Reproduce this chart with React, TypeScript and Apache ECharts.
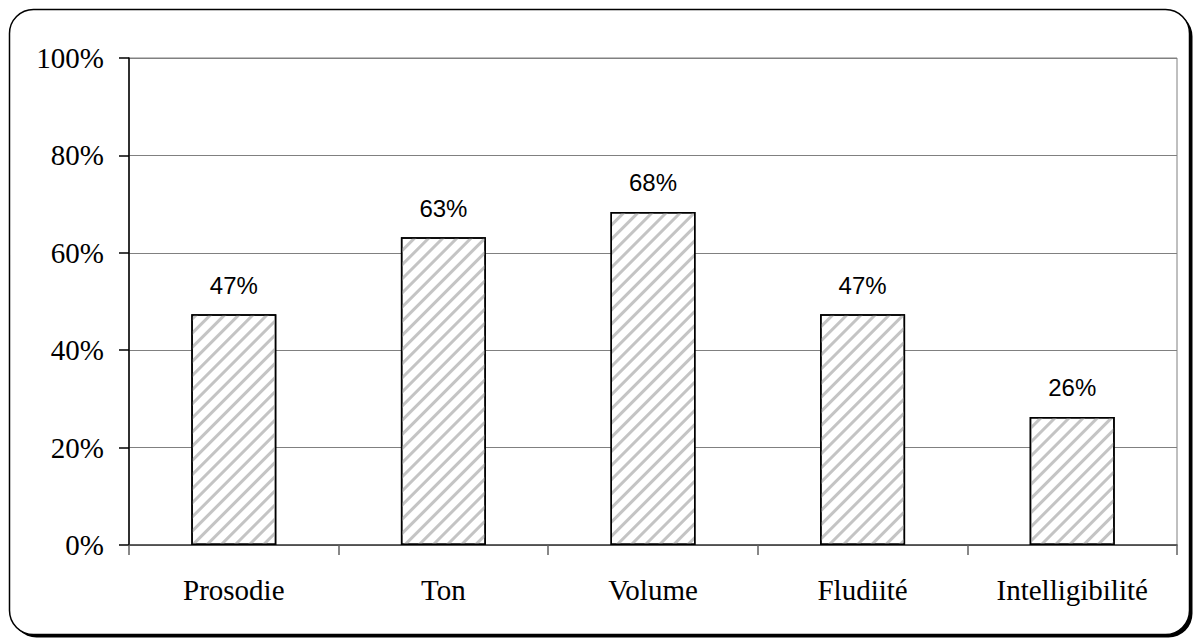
import React, { useEffect, useRef } from "react";
import * as echarts from "echarts";

const categories = ["Prosodie", "Ton", "Volume", "Fludiité", "Intelligibilité"];
const values = [47.4, 63.2, 68.4, 47.4, 26.3];
const yTicks = [0, 20, 40, 60, 80, 100];

export default function App() {
  const ref = useRef<HTMLDivElement>(null);
  useEffect(() => {
    if (!ref.current) return;
    const chart = echarts.init(ref.current, null, { renderer: "svg" });
    const serif = "'Liberation Serif', 'Times New Roman', serif";
    chart.setOption({
      animation: false,
      backgroundColor: "#ffffff",
      graphic: [
        {
          type: "rect",
          z: -20,
          shape: { x: 12.5, y: 12.5, width: 1180, height: 625, r: 24 },
          style: { fill: "#000000" },
          silent: true,
        },
        {
          type: "rect",
          z: -19,
          shape: { x: 9.5, y: 9.5, width: 1180, height: 625, r: 24 },
          style: { fill: "#ffffff", stroke: "#000000", lineWidth: 1.5 },
          silent: true,
        },
      ],
      grid: {
        left: 129,
        right: 17,
        top: 58,
        bottom: 94,
        show: true,
        borderColor: "#808080",
        borderWidth: 1,
        backgroundColor: "transparent",
      },
      xAxis: {
        type: "category",
        data: categories,
        axisLine: { lineStyle: { color: "#404040", width: 1.5 } },
        axisTick: { show: true, length: 10, lineStyle: { color: "#606060", width: 1.5 } },
        axisLabel: { color: "#000", fontFamily: serif, fontSize: 29, margin: 30 },
        splitLine: { show: false },
      },
      yAxis: {
        type: "value",
        min: yTicks[0],
        max: yTicks[yTicks.length - 1],
        interval: 20,
        axisLine: { show: true, lineStyle: { color: "#000", width: 1.5 } },
        axisTick: { show: true, length: 10, lineStyle: { color: "#000", width: 1.5 } },
        axisLabel: { color: "#000", fontFamily: serif, fontSize: 29, margin: 25, formatter: "{value}%" },
        splitLine: { show: true, lineStyle: { color: "#808080", width: 1 } },
      },
      series: [
        {
          type: "bar",
          data: values,
          barWidth: 85,
          itemStyle: {
            color: "#ffffff",
            borderColor: "#000",
            borderWidth: 1.5,
            decal: {
              symbol: "rect",
              symbolSize: 1,
              color: "#c4c4c4",
              dashArrayX: [1, 0],
              dashArrayY: [3, 7],
              rotation: -Math.PI / 4,
            },
          },
          label: {
            show: true,
            position: "top",
            distance: 17,
            color: "#000",
            fontFamily: "'Liberation Sans', Arial, sans-serif",
            fontSize: 24,
            formatter: (p: any) => Math.round(p.value) + "%",
          },
        },
      ],
    });
    return () => chart.dispose();
  }, []);
  return (
    <div
      ref={ref}
      style={{ position: "fixed", left: 0, top: 0, width: 1194, height: 639 }}
    />
  );
}
